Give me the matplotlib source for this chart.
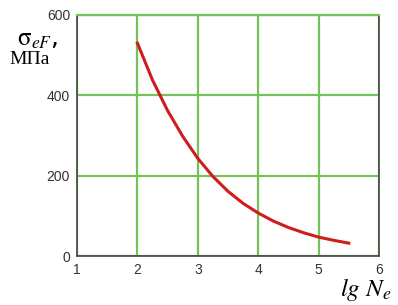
import matplotlib.pyplot as plt

plt.rcParams['mathtext.fontset'] = 'stix'

lgN = [2.0, 2.25, 2.5, 2.75, 3.0, 3.25, 3.5, 3.75, 4.0, 4.25, 4.5, 4.75, 5.0, 5.25, 5.5]
sigma = [530, 438, 362, 298, 243, 198, 161, 131, 107, 87, 71, 58, 47, 39, 32]
xticks = [1, 2, 3, 4, 5, 6]
yticks = [0, 200, 400, 600]

fig = plt.figure(figsize=(3.98, 3.05), dpi=100)
ax = fig.add_axes([77 / 398, 1 - 256 / 305, 302 / 398, 241 / 305])

grid_c = '#74c25a'
ax.plot(lgN, sigma, color='#d01c1c', lw=2.2, zorder=3)
ax.set_xlim(1, 6)
ax.set_ylim(0, 600)
ax.set_xticks(xticks)
ax.set_yticks(yticks)
ax.tick_params(length=0, labelsize=10, labelcolor='#333333', pad=5,
               labelfontfamily='Liberation Sans')
ax.grid(True, color=grid_c, lw=1.6)
for s in ['left', 'bottom', 'right']:
    ax.spines[s].set_color('#444444')
    ax.spines[s].set_linewidth(1.2)
ax.spines['top'].set_color(grid_c)
ax.spines['top'].set_linewidth(1.6)

fig.text(17 / 398, 1 - 46 / 305, r'$\mathrm{\sigma}_{eF}$,', fontsize=18,
         va='baseline', ha='left')
fig.text(9 / 398, 1 - 64 / 305, 'МПа', fontsize=14,
         family='Liberation Serif', va='baseline', ha='left')
fig.text(340 / 398, 1 - 296 / 305, r'$lg\ N_e$', fontsize=18,
         va='baseline', ha='left')

fig.savefig('out.png', dpi=100)
